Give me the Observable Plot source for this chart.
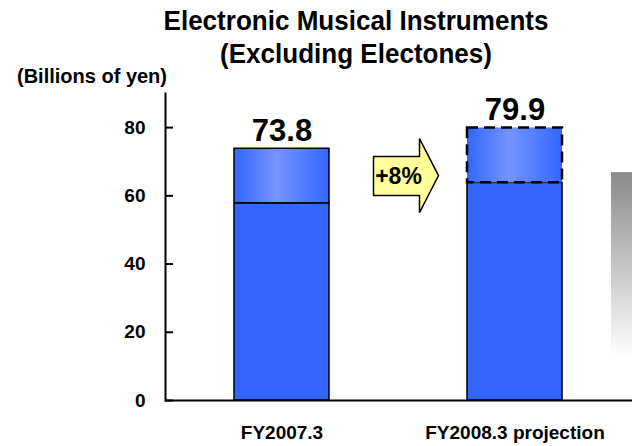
<!DOCTYPE html>
<html><head><meta charset="utf-8">
<script src="https://cdn.jsdelivr.net/npm/d3@7"></script>
<script src="https://cdn.jsdelivr.net/npm/@observablehq/plot@0.6"></script>
<style>
body{margin:0;background:#fff;}
#wrap{position:relative;width:632px;height:446px;font-family:"Liberation Sans",Arial,sans-serif;font-weight:bold;color:#000;}
.t{position:absolute;white-space:nowrap;line-height:1;}
#title{left:0;width:712px;top:4px;text-align:center;font-size:28px;line-height:33px;transform:scaleX(0.93);transform-origin:356px 0;}
#unit{left:17px;top:66px;font-size:20px;}
#chart{position:absolute;left:0;top:0;}
</style></head><body>
<div id="wrap">
<div id="chart"></div>
<div class="t" id="title"></div>
<div class="t" id="unit"></div>
</div>
<script>
const titleLines = ["Electronic Musical Instruments", "(Excluding Electones)"];
const unitLabel = "(Billions of yen)";
const categories = ["FY2007.3", "FY2008.3 projection"];
const totals = [73.8, 79.9];
const baseParts = [57.8, 63.8];
const growthLabel = "+8%";
const yTicks = [0, 20, 40, 60, 80];

document.getElementById("title").innerHTML = titleLines.join("<br>");
document.getElementById("unit").textContent = unitLabel;

const lower = categories.map((c, i) => ({cat: c, y1: 0, y2: baseParts[i]}));
const upper = categories.map((c, i) => ({cat: c, y1: baseParts[i], y2: totals[i]}));
const tops = categories.map((c, i) => ({cat: c, total: totals[i]}));

function decor(index, scales, values, dims) {
  const x = scales.x, y = scales.y, bw = x.bandwidth();
  const g = d3.create("svg:g");
  // gray gradient strip at right edge
  const gy1 = y(66.8), gy2 = y(3);
  g.append("rect").attr("x", dims.width - 21).attr("y", gy1)
    .attr("width", 21).attr("height", gy2 - gy1).attr("fill", "url(#grayGrad)");
  // growth arrow between bars
  const cx = (x(categories[0]) + bw + x(categories[1])) / 2 + 8;
  const cy = y((totals[0] + baseParts[0]) / 2);
  const L = cx - 32.5, H = cx + 13.5, T = cx + 32.5;
  const path = `M${L},${cy-19}H${H}V${cy-37}L${T},${cy}L${H},${cy+37}V${cy+20}H${L}Z`;
  g.append("path").attr("d", path).attr("fill", "#ffff99").attr("stroke", "#000").attr("stroke-width", 1.5);
  g.append("text").attr("x", (L + H) / 2 + 2).attr("y", cy + 2).attr("text-anchor", "middle")
    .attr("dominant-baseline", "middle").style("font-size", "23px").style("font-weight", "bold")
    .attr("fill", "#000").text(growthLabel);
  return g.node();
}

const svg = Plot.plot({
  width: 632,
  height: 446,
  marginTop: 93,
  marginBottom: 46,
  marginLeft: 165,
  marginRight: 0,
  style: {fontFamily: "'Liberation Sans', Arial, sans-serif", fontWeight: "bold", background: "transparent", color: "#000"},
  x: {domain: categories, range: [165, 630], paddingInner: 0.593, paddingOuter: 0.293},
  y: {domain: [0, 90]},
  marks: [
    Plot.rectY(lower, {x: "cat", y1: "y1", y2: "y2", fill: "#3366ff", stroke: "#000", strokeWidth: 1.5}),
    Plot.rectY([upper[0]], {x: "cat", y1: "y1", y2: "y2", fill: "url(#barGrad)", stroke: "#000", strokeWidth: 1.5}),
    Plot.rectY([upper[1]], {x: "cat", y1: "y1", y2: "y2", fill: "url(#barGrad)", stroke: "#000", strokeWidth: 2.5, strokeDasharray: "11,6"}),
    Plot.text(tops, {x: "cat", y: "total", text: d => d.total.toFixed(1), dy: -8, lineAnchor: "bottom", fontSize: 31, fontWeight: "bold", fill: "#000"}),
    decor,
    Plot.ruleY([0], {stroke: "#000", strokeWidth: 2}),
    Plot.frame({anchor: "left", stroke: "#000", strokeWidth: 2}),
    Plot.axisY({ticks: yTicks, tickSize: -8, tickPadding: 28, fontSize: 19, fontWeight: "bold", strokeWidth: 2, label: null}),
    Plot.axisX({tickSize: 0, tickPadding: 25, fontSize: 19, fontWeight: "bold", label: null})
  ]
});

const defs = d3.select(svg).insert("defs", ":first-child");
const bg = defs.append("linearGradient").attr("id", "barGrad").attr("x1", "0").attr("x2", "1").attr("y1", "0").attr("y2", "0");
bg.append("stop").attr("offset", "0").attr("stop-color", "#3366ff");
bg.append("stop").attr("offset", "0.45").attr("stop-color", "#7494ff");
bg.append("stop").attr("offset", "1").attr("stop-color", "#3366ff");
const gg = defs.append("linearGradient").attr("id", "grayGrad").attr("x1", "0").attr("x2", "0").attr("y1", "0").attr("y2", "1");
gg.append("stop").attr("offset", "0").attr("stop-color", "#8a8a8a");
gg.append("stop").attr("offset", "0.85").attr("stop-color", "#ffffff");
gg.append("stop").attr("offset", "1").attr("stop-color", "#ffffff");

document.getElementById("chart").appendChild(svg);
</script>
</body></html>
